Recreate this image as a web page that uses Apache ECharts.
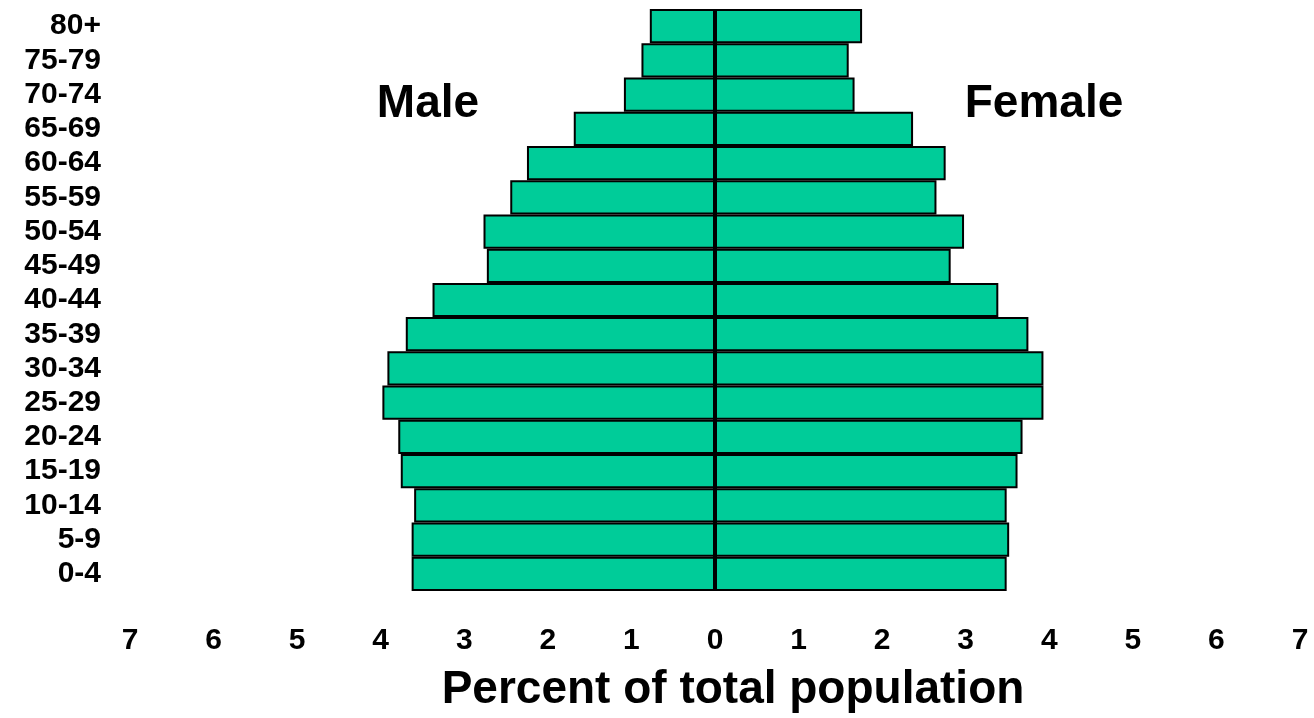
<!DOCTYPE html>
<html>
<head>
<meta charset="utf-8">
<title>Population pyramid</title>
<script src="https://cdn.jsdelivr.net/npm/echarts@6/dist/echarts.min.js"></script>
<style>
  html, body { margin: 0; padding: 0; background: #fff; }
  #chart { width: 1314px; height: 718px; }
</style>
</head>
<body>
<div id="chart"></div>
<script>
// age groups, bottom to top
const ageGroups = ['0-4', '5-9', '10-14', '15-19', '20-24', '25-29', '30-34', '35-39',
  '40-44', '45-49', '50-54', '55-59', '60-64', '65-69', '70-74', '75-79', '80+'];

// percent of total population
const male = [3.63, 3.63, 3.60, 3.76, 3.79, 3.98, 3.92, 3.70, 3.38, 2.73, 2.77, 2.45, 2.25, 1.69, 1.09, 0.88, 0.78];
const female = [3.49, 3.52, 3.49, 3.62, 3.68, 3.93, 3.93, 3.75, 3.39, 2.82, 2.98, 2.65, 2.76, 2.37, 1.67, 1.60, 1.76];

const xMin = -7;
const xMax = 7;

const font = "'Liberation Sans', Arial, sans-serif";
const barColor = '#00cc99';

const chart = echarts.init(document.getElementById('chart'));

chart.setOption({
  animation: false,
  backgroundColor: '#fff',
  grid: {
    left: 130,
    right: 14,
    top: 9,
    bottom: 126
  },
  xAxis: {
    type: 'value',
    min: xMin,
    max: xMax,
    interval: 1,
    axisLine: { show: false },
    axisTick: { show: false },
    splitLine: { show: false },
    axisLabel: {
      margin: 35,
      color: '#000',
      fontFamily: font,
      fontWeight: 'bold',
      fontSize: 30,
      formatter: (v) => Math.abs(v)
    },
    name: 'Percent of total population',
    nameLocation: 'middle',
    nameGap: 76,
    nameTextStyle: {
      color: '#000',
      fontFamily: font,
      fontWeight: 'bold',
      fontSize: 46,
      padding: [0, 0, 0, 36]
    }
  },
  yAxis: {
    type: 'category',
    data: ageGroups,
    axisLine: { show: false },
    axisTick: { show: false },
    axisLabel: {
      interval: 0,
      margin: 29,
      color: '#000',
      fontFamily: font,
      fontWeight: 'bold',
      fontSize: 30
    }
  },
  graphic: [
    {
      type: 'text',
      x: 428,
      y: 104,
      style: {
        text: 'Male',
        fill: '#000',
        font: 'bold 46px ' + font,
        align: 'center',
        verticalAlign: 'middle'
      }
    },
    {
      type: 'text',
      x: 1044,
      y: 104,
      style: {
        text: 'Female',
        fill: '#000',
        font: 'bold 46px ' + font,
        align: 'center',
        verticalAlign: 'middle'
      }
    }
  ],
  series: [
    {
      name: 'Male',
      type: 'bar',
      barCategoryGap: '0%',
      barGap: '-100%',
      itemStyle: { color: barColor, borderColor: '#000', borderWidth: 2 },
      data: male.map(v => -v)
    },
    {
      name: 'Female',
      type: 'bar',
      barCategoryGap: '0%',
      barGap: '-100%',
      itemStyle: { color: barColor, borderColor: '#000', borderWidth: 2 },
      data: female,
      markLine: {
        silent: true,
        symbol: ['none', 'none'],
        label: { show: false },
        lineStyle: { color: '#000', width: 4, type: 'solid' },
        data: [{ xAxis: 0 }]
      }
    }
  ]
});
</script>
</body>
</html>
